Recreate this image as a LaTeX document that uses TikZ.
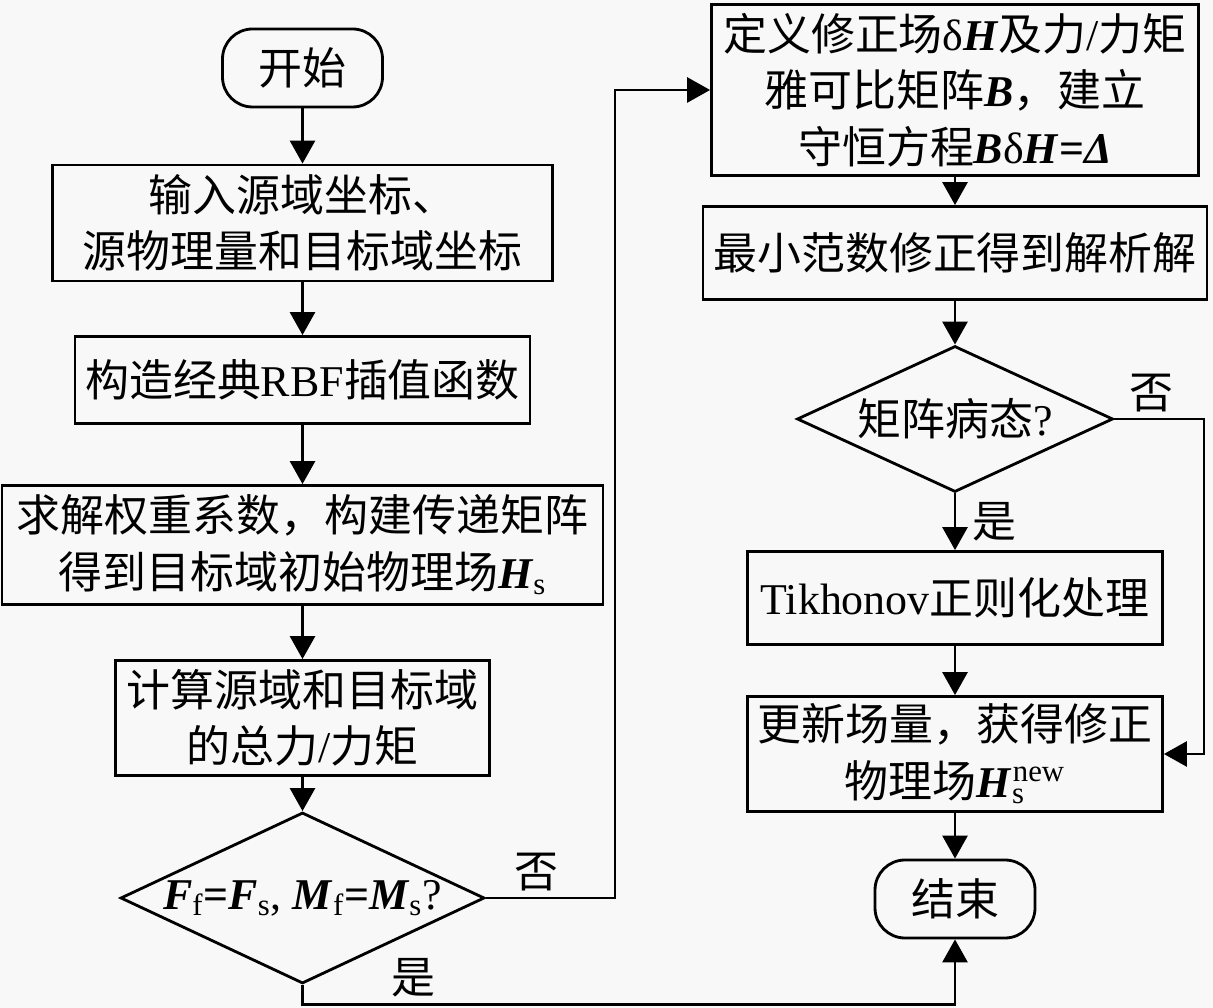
\documentclass[tikz,border=0pt]{standalone}
\usepackage{fontspec}
\setmainfont{Liberation Serif}
\newfontfamily\cjk{Noto Sans CJK SC}
\usepackage{tikz}
\usetikzlibrary{arrows.meta,shapes.geometric}
\definecolor{bgcol}{RGB}{248,248,248}
\newcommand{\bi}[1]{\textrm{\bfseries\itshape #1}}
\newcommand{\rs}[1]{\textrm{#1}}
\newcommand{\lo}[1]{\textsubscript{\rs{#1}}}

\begin{document}
\begin{tikzpicture}[
	line width=1.6pt,
	>={Triangle[length=0.46cm,width=0.5cm]},
	font=\cjk\fontsize{25}{32}\selectfont,
	box/.style={draw,align=center,inner sep=0pt},
	term/.style={draw,rounded corners=0.6cm,inner sep=0pt,minimum width=3.2cm,minimum height=1.56cm},
	test/.style={draw,diamond,aspect=2.13,inner sep=0pt},
	]
	\useasboundingbox (0,0) rectangle (24.26,20.16);
	\fill[bgcol] (0,0) rectangle (24.26,20.16);
	% left column
	\node[term] (0) at (6.05,18.80) {开始};
	\node[box,minimum width=10cm,minimum height=2.32cm] (1) at (6.05,15.70) {输入源域坐标、\\源物理量和目标域坐标};
	\node[box,minimum width=9.1cm,minimum height=1.74cm] (2) at (6.05,12.56) {构造经典\rs{RBF}插值函数};
	\node[box,minimum width=12.02cm,minimum height=2.38cm] (3) at (6.05,9.26) {求解权重系数，构建传递矩阵\\得到目标域初始物理场\bi{H}\lo{s}};
	\node[box,minimum width=7.48cm,minimum height=2.3cm] (4) at (6.05,5.80) {计算源域和目标域\\的总力\rs{/}力矩};
	\node[test,minimum width=7.28cm,minimum height=3.42cm] (5) at (6.05,2.20) {\bi{F}\lo{f}\rs{\bfseries =}\bi{F}\lo{s}\rs{, }\bi{M}\lo{f}\rs{\bfseries =}\bi{M}\lo{s}\rs{?}};
	% right column
	\node[box,minimum width=9.74cm,minimum height=3.42cm] (6) at (19.1,18.36) {定义修正场\rs{δ}\bi{H}及力\rs{/}力矩\\雅可比矩阵\bi{B}，建立\\守恒方程\bi{B}\rs{δ}\bi{H}\rs{\bfseries =}\bi{Δ}};
	\node[box,minimum width=10.08cm,minimum height=1.86cm] (7) at (19.1,15.10) {最小范数修正得到解析解};
	\node[test,minimum width=6.32cm,minimum height=2.92cm] (8) at (19.1,11.78) {矩阵病态\rs{?}};
	\node[box,minimum width=8.3cm,minimum height=1.86cm] (9) at (19.1,8.20) {\rs{Tikhonov}正则化处理};
	\node[box,minimum width=8.3cm,minimum height=2.3cm] (10) at (19.1,5.08) {更新场量，获得修正\\物理场\bi{H}\textsubscript{\rlap{\rs{s}}}\textsuperscript{\rs{new}}};
	\node[term] (11) at (19.1,2.18) {结束};
	\coordinate (c1) at (12.3,2.20);
	\coordinate (c2) at (6.05,0.07);
	\coordinate (c3) at (24.08,11.78);
	\draw[->] (0)--(1);
	\draw[->] (1)--(2);
	\draw[->] (2)--(3);
	\draw[->] (3)--(4);
	\draw[->] (4)--(5);
	\draw[->] (5.east) -- node[pos=0.39,above]{否} (c1) |- (6.west);
	\draw[->] (5.south) -- (c2) -| (11.south) node[pos=0.085,above]{是};
	\draw[->] (6)--(7);
	\draw[->] (7)--(8);
	\draw[->] (8)--(9) node[midway,right,xshift=0.2cm]{是};
	\draw[->] (8.east) -- node[pos=0.41,above]{否} (c3) |- (10.east);
	\draw[->] (9)--(10);
	\draw[->] (10)--(11);
\end{tikzpicture}
\end{document}
